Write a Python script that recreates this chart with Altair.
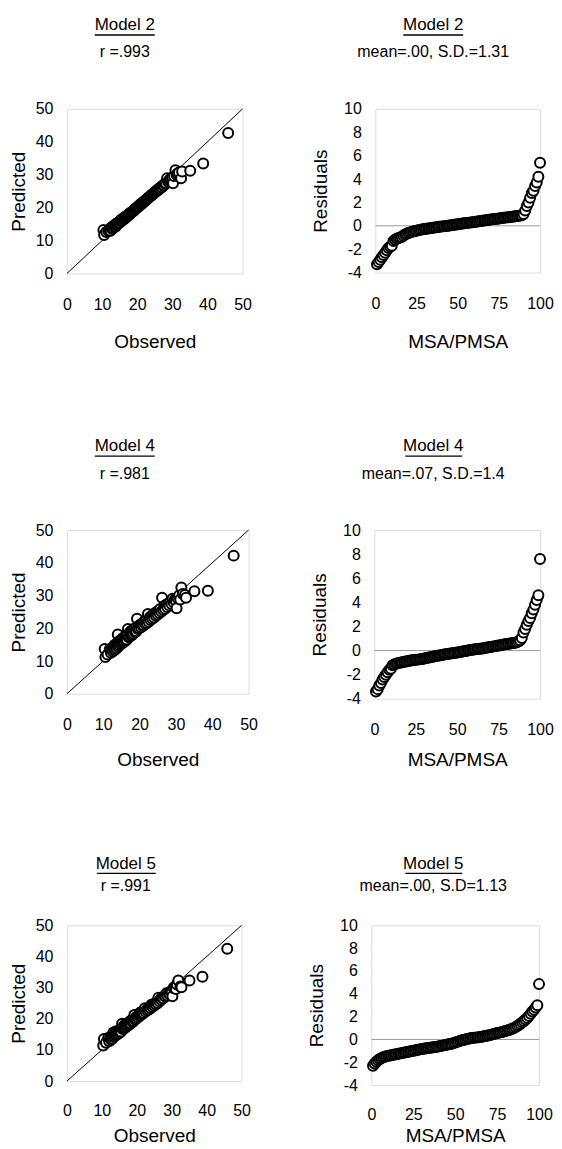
import altair as alt
import pandas as pd

# ---------------- data ----------------
observed = [10.4, 10.6, 11.2, 11.8, 12.1, 12.4, 12.6, 12.9, 13.0, 13.1,
            13.3, 13.5, 13.7, 13.9, 14.0, 14.1, 14.2, 14.4, 14.6, 14.8,
            15.0, 15.2, 15.4, 15.5, 15.6, 15.8, 16.0, 16.2, 16.4, 16.5,
            16.6, 16.8, 17.0, 17.2, 17.3, 17.5, 17.7, 17.9, 18.0, 18.1,
            18.3, 18.5, 18.8, 19.0, 19.1, 19.3, 19.5, 19.7, 19.9, 20.2,
            20.4, 20.6, 20.9, 21.0, 21.1, 21.3, 21.6, 21.8, 22.0, 22.3,
            22.5, 22.8, 23.0, 23.2, 23.5, 23.7, 24.0, 24.2, 24.5, 24.7,
            25.0, 25.2, 25.5, 25.7, 26.0, 26.2, 26.5, 26.8, 27.0, 27.3,
            27.6, 27.9, 28.2, 28.5, 28.8, 29.1, 29.4, 29.7, 30.0, 30.2,
            30.5, 30.9, 31.2, 31.5, 31.9, 32.5, 32.8, 35.1, 38.8, 45.9]

pred_m2 = [13.2, 11.7, 12.6, 12.9, 13.4, 13.0, 13.9, 13.5, 14.2, 13.8,
           14.5, 14.1, 14.6, 14.3, 15.1, 14.7, 15.0, 15.3, 15.2, 15.6,
           15.4, 16.0, 15.9, 16.4, 16.1, 16.5, 16.3, 16.9, 16.6, 17.2,
           16.9, 17.3, 17.2, 17.6, 17.5, 17.8, 17.9, 18.3, 18.1, 18.4,
           18.5, 18.7, 18.9, 19.2, 19.1, 19.5, 19.6, 19.8, 20.0, 20.2,
           20.5, 20.5, 20.9, 21.1, 21.0, 21.2, 21.5, 21.8, 21.8, 22.2,
           22.3, 22.6, 22.8, 23.1, 23.2, 23.5, 23.7, 24.0, 24.1, 24.4,
           24.6, 24.9, 25.0, 25.3, 25.4, 25.8, 25.8, 26.3, 26.2, 26.7,
           26.8, 27.3, 27.4, 28.9, 27.9, 28.3, 28.6, 28.9, 29.2, 27.4,
           29.6, 31.4, 30.0, 30.4, 30.7, 28.9, 31.0, 31.2, 33.4, 42.7]

pred_m4 = [13.7, 11.2, 12.0, 13.6, 12.5, 14.0, 12.9, 14.4, 13.3, 14.9,
           13.6, 15.0, 13.9, 15.5, 18.1, 14.4, 15.9, 14.8, 16.2, 15.1,
           16.6, 15.4, 16.9, 15.7, 17.1, 16.0, 17.5, 16.3, 17.8, 16.6,
           18.3, 19.8, 17.3, 18.6, 17.5, 19.0, 17.8, 19.3, 18.0, 19.5,
           18.4, 19.9, 18.8, 20.2, 19.1, 22.9, 19.8, 20.7, 20.0, 21.1,
           20.3, 21.4, 20.7, 21.8, 20.9, 22.0, 21.3, 22.4, 21.6, 24.4,
           22.0, 23.3, 22.5, 23.7, 22.9, 24.2, 23.3, 24.6, 23.8, 25.0,
           24.2, 25.4, 24.7, 25.9, 25.1, 29.3, 25.6, 26.8, 26.0, 27.2,
           26.5, 27.6, 27.0, 28.2, 27.4, 29.0, 27.9, 28.7, 28.4, 26.1,
           29.2, 30.0, 28.8, 32.5, 30.5, 30.2, 29.3, 31.3, 31.5, 42.2]

pred_m5 = [11.4, 13.5, 12.3, 13.8, 12.8, 14.1, 13.3, 14.5, 13.6, 14.2,
           15.6, 14.3, 15.2, 14.6, 15.9, 14.8, 15.4, 15.0, 16.1, 15.3,
           16.3, 15.6, 16.7, 15.9, 17.0, 18.4, 16.7, 17.5, 16.9, 18.0,
           17.2, 17.9, 17.5, 18.4, 17.7, 18.6, 18.0, 18.9, 18.3, 19.2,
           18.6, 19.5, 19.0, 19.7, 19.3, 21.2, 19.8, 20.4, 20.1, 20.8,
           20.5, 21.1, 21.0, 22.0, 21.2, 21.6, 21.5, 22.1, 21.9, 23.4,
           22.3, 22.9, 22.7, 23.3, 23.0, 23.7, 23.5, 24.5, 23.9, 24.6,
           24.3, 25.0, 24.7, 25.4, 25.1, 26.8, 25.6, 26.4, 26.1, 26.7,
           26.6, 27.3, 27.2, 28.2, 27.5, 28.3, 27.9, 28.8, 28.7, 27.2,
           29.9, 30.3, 29.6, 31.0, 32.3, 30.4, 30.1, 32.3, 33.5, 42.5]

# residuals sorted in MSA/PMSA order (rank 1..100)
resid_m2 = [-3.3, -3.1, -2.9, -2.7, -2.5, -2.3, -2.1, -1.9, -1.8, -1.7,
            -1.3, -1.2, -1.1, -1.05, -1.0,
            -0.95, -0.85, -0.75, -0.68, -0.62, -0.57, -0.52, -0.48, -0.45, -0.42,
            -0.38, -0.35, -0.32, -0.30, -0.27, -0.25, -0.23, -0.21, -0.19, -0.17,
            -0.15, -0.13, -0.11, -0.09, -0.07, -0.05, -0.03, -0.01, 0.01, 0.03,
            0.05, 0.07, 0.09, 0.11, 0.13, 0.15, 0.17, 0.19, 0.21, 0.23,
            0.25, 0.27, 0.29, 0.31, 0.33, 0.35, 0.37, 0.39, 0.41, 0.43,
            0.45, 0.47, 0.49, 0.51, 0.53, 0.55, 0.57, 0.59, 0.61, 0.63,
            0.65, 0.67, 0.69, 0.70, 0.72, 0.73, 0.75, 0.77, 0.79, 0.81,
            0.83, 0.85, 0.87, 0.90,
            1.0, 1.3, 1.7, 2.0, 2.4, 2.8, 3.0, 3.4, 3.7, 4.2, 5.4]

resid_m4 = [-3.4, -3.2, -2.9, -2.7, -2.4, -2.2, -2.0, -1.8, -1.6, -1.5,
            -1.22, -1.15, -1.10, -1.06, -1.02, -0.99, -0.96, -0.93, -0.90, -0.88,
            -0.85, -0.83, -0.81, -0.79, -0.77, -0.75, -0.73, -0.71, -0.69, -0.66,
            -0.63, -0.60, -0.57, -0.55, -0.52, -0.49, -0.46, -0.43, -0.41, -0.38,
            -0.36, -0.33, -0.31, -0.29, -0.27, -0.25, -0.23, -0.20, -0.18, -0.16,
            -0.13, -0.11, -0.08, -0.06, -0.03, -0.01, 0.02, 0.04, 0.07, 0.09,
            0.11, 0.13, 0.15, 0.16, 0.18, 0.20, 0.22, 0.25, 0.27, 0.30,
            0.32, 0.35, 0.37, 0.40, 0.42, 0.45, 0.47, 0.50, 0.52, 0.55,
            0.57, 0.59, 0.61, 0.63, 0.65, 0.70, 0.76, 0.85,
            1.05, 1.5, 1.8, 2.15, 2.45, 2.7, 3.1, 3.4, 3.8, 4.2, 4.6, 7.6]

resid_m5 = [-2.3, -2.1, -1.95, -1.82, -1.72, -1.64, -1.57, -1.52,
            -1.48, -1.44, -1.41, -1.38, -1.35, -1.32, -1.29, -1.26, -1.23, -1.20,
            -1.17, -1.14, -1.11, -1.08, -1.05, -1.02, -0.99, -0.96, -0.93, -0.90,
            -0.87, -0.84, -0.81, -0.79, -0.77, -0.75, -0.73, -0.71, -0.69, -0.67,
            -0.64, -0.61, -0.58, -0.55, -0.52, -0.49, -0.46, -0.43, -0.40, -0.37,
            -0.32, -0.27, -0.22, -0.17, -0.12, -0.08, -0.04, 0.0, 0.04, 0.07,
            0.10, 0.12, 0.14, 0.16, 0.18, 0.20, 0.22, 0.24, 0.27, 0.30,
            0.33, 0.36, 0.40, 0.44, 0.48, 0.52, 0.56, 0.59, 0.62, 0.66,
            0.70, 0.74, 0.78, 0.82, 0.87, 0.93, 1.00, 1.08, 1.17, 1.27,
            1.38, 1.50, 1.62, 1.75, 1.88, 2.05, 2.25, 2.45, 2.6, 2.8, 3.0, 4.85]

diag_vals = [0, 50]
zero_vals = [0]
obs_ticks = [0, 10, 20, 30, 40, 50]
rank_ticks = [0, 25, 50, 75, 100]
res_ticks = [-4, -2, 0, 2, 4, 6, 8, 10]
model_names = ["Model 2", "Model 4", "Model 5"]
fit_labels = ["r =.993", "r =.981", "r =.991"]
resid_labels = ["mean=.00, S.D.=1.31", "mean=.07, S.D.=1.4", "mean=.00, S.D=1.13"]

# ---------------- styling ----------------
FONT = "'Liberation Sans', Arial, sans-serif"


def ax(title, values, lpad, tpad):
    return alt.Axis(values=values, title=title, labelPadding=lpad, titlePadding=tpad,
                    ticks=False, tickSize=0, domain=False, grid=False,
                    labelFont=FONT, labelFontSize=16, labelColor="black",
                    labelOverlap=False, labelFlush=False,
                    titleFont=FONT, titleFontSize=19, titleFontWeight="normal",
                    titleColor="black", labelExpr="'' + datum.value")


def title_layers(name, sub, cx, ty, sy, ux1, ux2, uy):
    tdf = pd.DataFrame({"t": [name]})
    sdf = pd.DataFrame({"t": [sub]})
    t = alt.Chart(tdf).mark_text(font=FONT, fontSize=17, color="black",
                                 align="center", baseline="middle").encode(
        x=alt.value(cx), y=alt.value(ty), text="t:N")
    s = alt.Chart(sdf).mark_text(font=FONT, fontSize=16, color="black",
                                 align="center", baseline="middle").encode(
        x=alt.value(cx), y=alt.value(sy), text="t:N")
    u = alt.Chart(tdf).mark_rule(color="black", strokeWidth=1.3).encode(
        x=alt.value(ux1), x2=alt.value(ux2), y=alt.value(uy))
    return [t, s, u]


def scatter_panel(pred, i, w, h, tpos, xl, xt):
    df = pd.DataFrame({"obs": observed, "pred": pred})
    diag = pd.DataFrame({"obs": diag_vals, "pred": diag_vals})
    x = alt.X("obs:Q", scale=alt.Scale(domain=[0, 50], nice=False),
              axis=ax("Observed", obs_ticks, xl, xt))
    y = alt.Y("pred:Q", scale=alt.Scale(domain=[0, 50], nice=False),
              axis=ax("Predicted", obs_ticks, 14, 7))
    line = alt.Chart(diag).mark_line(color="black", strokeWidth=1).encode(x=x, y=y)
    pts = alt.Chart(df).mark_point(shape="circle", filled=True, fill="white",
                                   stroke="black", strokeWidth=2, size=100,
                                   opacity=1).encode(x=x, y=y)
    layers = [line, pts] + title_layers(model_names[i], fit_labels[i], *tpos)
    return alt.layer(*layers).properties(width=w, height=h)


def resid_panel(res, i, w, h, tpos, xl, xt):
    df = pd.DataFrame({"rank": list(range(1, len(res) + 1)), "res": res})
    zdf = pd.DataFrame({"res": zero_vals})
    x = alt.X("rank:Q", scale=alt.Scale(domain=[0, 100], nice=False),
              axis=ax("MSA/PMSA", rank_ticks, xl, xt))
    y = alt.Y("res:Q", scale=alt.Scale(domain=[-4, 10], nice=False),
              axis=ax("Residuals", res_ticks, 14, 13))
    zero = alt.Chart(zdf).mark_rule(color="#9a9a9a", strokeWidth=1).encode(y=y)
    pts = alt.Chart(df).mark_point(shape="circle", filled=True, fill="white",
                                   stroke="black", strokeWidth=2, size=100,
                                   opacity=1).encode(x=x, y=y)
    layers = [zero, pts] + title_layers(model_names[i], resid_labels[i], *tpos)
    return alt.layer(*layers).properties(width=w, height=h)


row1 = alt.hconcat(
    scatter_panel(pred_m2, 0, 176, 165, (58, -84, -57, 28, 88, -74), 23, 20),
    resid_panel(resid_m2, 0, 165, 164, (58, -84, -57, 28, 88, -74), 23, 21),
    spacing=58)
row2 = alt.hconcat(
    scatter_panel(pred_m4, 1, 182, 164, (58, -84, -56, 28, 88, -74), 23, 18),
    resid_panel(resid_m4, 1, 166, 169, (59, -84, -56, 31, 88, -74), 23, 13),
    spacing=51)
row3 = alt.hconcat(
    scatter_panel(pred_m5, 2, 175, 156, (59, -61, -39, 30, 89, -52), 21, 9),
    resid_panel(resid_m5, 2, 168, 160, (62, -61, -39, 34, 91, -52), 21, 5),
    spacing=55)

chart = alt.vconcat(row1, row2, row3, spacing=84).properties(
    padding={"left": 0, "top": 6, "right": 0, "bottom": 0}
).configure_view(stroke="black", strokeWidth=1.5).configure(background="white")

chart.save("out.html", embed_options={"renderer": "svg", "actions": False})
